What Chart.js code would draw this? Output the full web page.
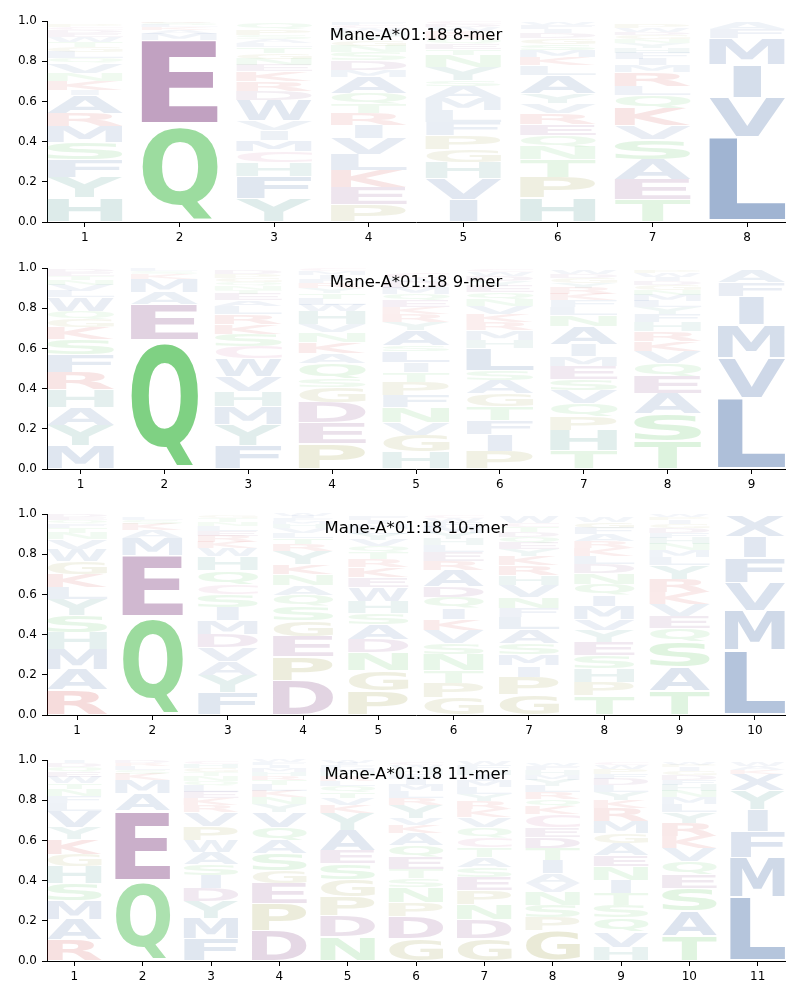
<!DOCTYPE html>
<html>
<head>
<meta charset="utf-8">
<script src="https://cdn.jsdelivr.net/npm/chart.js@4"></script>
<style>
  body { margin: 0; background: #fff; }
  #wrap { position: relative; width: 800px; height: 1000px; }
  #wrap canvas { position: absolute; left: 0; }
</style>
</head>
<body>
<div id="wrap">
  <canvas id="c8" width="800" height="246" style="top:0px"></canvas>
  <canvas id="c9" width="800" height="246" style="top:247px"></canvas>
  <canvas id="c10" width="800" height="246" style="top:493px"></canvas>
  <canvas id="c11" width="800" height="246" style="top:739px"></canvas>
</div>
<script>
// letters of each position, bottom to top, with their heights
const letters8 = ["HYFSMRAIKNVQLGTWEDCP", "QEMAKLSR", "YFHCMIVWDRKENGTLASPQ", "PEKLVIRTQAMDSNGYHWCF",
  "IVHGPFLMASYNTEQRKWDC", "HPTNQERVYALKMSGDIFW", "TEASVKQLRMIFHYNGDWP", "LVIMFA"];
const heights8 = [
  [.12, .10, .09, .085, .08, .065, .09, .025, .045, .04, .05, .025, .03, .025, .025, .025, .02, .015, .015, .015],
  [.485, .42, .03, .02, .015, .012, .01, .006],
  [.115, .11, .07, .055, .055, .05, .05, .10, .045, .05, .05, .03, .03, .03, .03, .02, .02, .02, .03, .03],
  [.085, .085, .085, .08, .08, .065, .06, .045, .055, .08, .035, .05, .04, .03, .03, .02, .02, .02, .015, .015],
  [.11, .105, .08, .065, .07, .065, .06, .06, .06, .03, .065, .06, .03, .025, .025, .02, .02, .02, .015, .015],
  [.12, .10, .09, .065, .055, .055, .055, .05, .05, .09, .05, .04, .035, .03, .03, .025, .02, .02, .015],
  [.11, .10, .10, .10, .07, .085, .065, .045, .07, .035, .03, .03, .025, .025, .02, .02, .015, .02, .02],
  [.425, .195, .165, .13, .045, .035]
];

const letters9 = ["MYAHRFSKGQWLVNTED", "QEAMKSL", "FYMHVWCSKRLAETNQGPD", "PEDGSQAKNVHWLTYRFIMC",
  "HGVNFPTILSAYRKEQMDWC", "PIFTGASLHMRKVNQEYDWC", "THPQVSEMIANLFKRYGDW", "TSAEQVKRHFYLMNGDIWP", "LVMIFA"];
const heights9 = [
  [.115, .10, .09, .09, .085, .09, .075, .06, .04, .04, .07, .03, .03, .025, .02, .02, .015],
  [.64, .18, .06, .065, .025, .015, .01],
  [.115, .105, .09, .075, .075, .09, .06, .06, .05, .05, .04, .03, .03, .02, .02, .02, .02, .02, .02],
  [.125, .105, .10, .075, .045, .075, .05, .055, .05, .04, .065, .03, .03, .03, .025, .025, .02, .02, .02, .01],
  [.085, .085, .06, .075, .06, .065, .05, .05, .055, .03, .075, .04, .04, .035, .035, .03, .03, .03, .02, .025],
  [.09, .08, .07, .07, .065, .065, .05, .11, .04, .05, .04, .04, .04, .035, .035, .03, .025, .025, .02, .015],
  [.09, .10, .07, .065, .065, .055, .065, .05, .06, .09, .055, .04, .035, .03, .03, .025, .025, .02, .02],
  [.14, .135, .10, .085, .065, .06, .05, .05, .045, .04, .035, .03, .03, .025, .025, .02, .02, .02, .015],
  [.355, .20, .165, .14, .07, .06]
];

const letters10 = ["RAMHSYLKGWVNTFQED", "QEMAKSL", "FYAVDMISCQHWKRELNTG", "DPEGSQANKYRTLVHMFIW",
  "PGNDASHWEKRTQVYLMIF", "GPTNSVKIQDARELHYMFWC", "GPIMSALFNVHRKYEQDTCW", "TPHSEYVMIQNDLKRAFGW",
  "TASQEVKRYLMNHFDGIPW", "LMVFIX"];
const heights10 = [
  [.125, .10, .10, .085, .085, .08, .06, .065, .065, .06, .05, .03, .025, .02, .02, .015, .015],
  [.49, .305, .085, .04, .03, .02, .015],
  [.11, .085, .07, .07, .065, .07, .065, .065, .05, .07, .07, .04, .03, .03, .025, .025, .02, .02, .01],
  [.17, .12, .10, .08, .07, .055, .05, .055, .05, .065, .035, .03, .025, .025, .02, .015, .015, .01, .01],
  [.12, .10, .09, .065, .075, .055, .06, .07, .05, .05, .04, .035, .03, .03, .03, .025, .025, .02, .02],
  [.085, .075, .06, .08, .055, .065, .055, .055, .055, .055, .08, .045, .045, .035, .03, .03, .03, .025, .02, .01],
  [.10, .09, .055, .055, .055, .07, .06, .045, .055, .06, .05, .05, .045, .035, .03, .03, .025, .025, .02, .03],
  [.095, .07, .065, .065, .065, .06, .055, .065, .055, .055, .055, .045, .04, .04, .035, .035, .03, .03, .025],
  [.12, .12, .125, .065, .06, .06, .06, .065, .07, .04, .035, .03, .03, .025, .025, .02, .02, .015, .01],
  [.325, .195, .14, .125, .105, .10]
];

const letters11 = ["RAMSHGKYVLFNTWEQDI", "QEAMKSLRD", "FMYDISAWPVRKELQNTGHC", "DPEGSAQVYNKLTRHMIFW",
  "NDPGSEAYKVTQLRHMFIW", "GDPNSTEQAKVYRLMIFHWC", "GDNPESATCQVKRYLMIHFW", "GPSNVAITDECKQRLYMHFW",
  "HVQSTINEAGMRKYLDFPWC", "TASEQVKRYLMNHFDGIPW", "LMFIYXKAW"];
const heights11 = [
  [.105, .10, .095, .085, .085, .06, .075, .06, .08, .04, .035, .035, .03, .03, .025, .025, .02, .015],
  [.40, .35, .085, .065, .03, .02, .02, .015, .01],
  [.11, .10, .085, .065, .065, .055, .06, .06, .07, .07, .035, .035, .03, .03, .025, .025, .02, .02, .02, .015],
  [.15, .135, .10, .065, .085, .065, .065, .075, .04, .035, .03, .03, .025, .02, .02, .02, .015, .015, .01],
  [.12, .105, .095, .085, .08, .065, .10, .085, .04, .035, .03, .03, .025, .025, .02, .02, .015, .01, .01],
  [.11, .11, .07, .075, .045, .045, .06, .06, .06, .04, .035, .065, .035, .035, .03, .03, .025, .025, .02, .015],
  [.11, .095, .075, .07, .065, .05, .05, .05, .05, .05, .05, .04, .04, .035, .035, .03, .03, .025, .025, .02],
  [.15, .065, .06, .065, .045, .05, .065, .06, .055, .05, .065, .04, .035, .035, .03, .03, .025, .025, .02, .015],
  [.07, .075, .07, .06, .06, .065, .07, .055, .06, .05, .06, .065, .04, .04, .035, .03, .025, .025, .02, .015],
  [.125, .125, .11, .07, .065, .065, .06, .065, .055, .04, .035, .03, .03, .025, .025, .02, .02, .01, .01],
  [.32, .195, .13, .11, .095, .08, .02, .02, .02]
];

const titles = ["Mane-A*01:18 8-mer", "Mane-A*01:18 9-mer", "Mane-A*01:18 10-mer", "Mane-A*01:18 11-mer"];
const yTicks = [0, 0.2, 0.4, 0.6, 0.8, 1.0];

// residue colour groups
const groupColor = {
  blue: [43, 88, 155], green: [60, 185, 65], purple: [115, 43, 115],
  red: [200, 40, 40], teal: [40, 130, 120], olive: [140, 140, 40], pink: [190, 80, 140]
};
const residueGroup = {
  A: 'blue', V: 'blue', L: 'blue', I: 'blue', M: 'blue', F: 'blue', W: 'blue', X: 'blue',
  Q: 'green', S: 'green', T: 'green', N: 'green',
  D: 'purple', E: 'purple', K: 'red', R: 'red', H: 'teal', Y: 'teal',
  P: 'olive', G: 'olive', C: 'pink'
};

const FONT = 'bold 100px "DejaVu Sans"';
const glyphCache = {};
function glyphBox(ctx, ch) {
  if (!glyphCache[ch]) {
    ctx.save();
    ctx.font = FONT;
    const m = ctx.measureText(ch);
    glyphCache[ch] = {
      left: m.actualBoundingBoxLeft, w: m.actualBoundingBoxLeft + m.actualBoundingBoxRight,
      asc: m.actualBoundingBoxAscent, h: m.actualBoundingBoxAscent + m.actualBoundingBoxDescent
    };
    ctx.restore();
  }
  return glyphCache[ch];
}

function drawGlyph(ctx, ch, x, y, w, h, fill) {
  if (h <= 0.3) return;
  const g = glyphBox(ctx, ch);
  const e = glyphBox(ctx, 'E');
  // don't stretch narrow letters (like I) wider than an E would be
  const sx = w / Math.max(g.w, e.w);
  const sy = h / g.h;
  const x0 = x + (w - g.w * sx) / 2;
  ctx.save();
  ctx.translate(x0, y);
  ctx.scale(sx, sy);
  ctx.font = FONT;
  ctx.textBaseline = 'alphabetic';
  ctx.textAlign = 'left';
  ctx.fillStyle = fill;
  ctx.fillText(ch, g.left, g.asc);
  ctx.restore();
}

function makePanel(id, title, letters, heights) {
  const n = letters.length;
  const positions = letters.map((s, i) => i + 1);
  const levels = Math.max(...letters.map(s => s.length));
  const datasets = [];
  for (let k = 0; k < levels; k++) {
    datasets.push({
      data: positions.map((p, i) => ({ x: p, y: heights[i][k] || 0 })),
      backgroundColor: 'rgba(0,0,0,0)',
      borderWidth: 0,
      barPercentage: 0.8,
      categoryPercentage: 1
    });
  }

  const logoPlugin = {
    id: 'logo' + id,
    afterDatasetsDraw(chart) {
      const ctx = chart.ctx;
      const xs = chart.scales.x;
      chart.data.datasets.forEach((ds, k) => {
        const meta = chart.getDatasetMeta(k);
        meta.data.forEach((bar, i) => {
          const ch = letters[i][k];
          if (!ch) return;
          const p = heights[i][k];
          const top = Math.min(bar.y, bar.base), bottom = Math.max(bar.y, bar.base);
          const pad = (bottom - top) * 0.025;
          const left = xs.getPixelForValue(positions[i] - 0.4);
          const right = xs.getPixelForValue(positions[i] + 0.4);
          const c = groupColor[residueGroup[ch]];
          const a = Math.min(1, 0.04 + 0.96 * p);
          drawGlyph(ctx, ch, left, top + pad, right - left, bottom - top - 2 * pad,
            'rgba(' + c[0] + ',' + c[1] + ',' + c[2] + ',' + a + ')');
        });
      });
      const ca = chart.chartArea;
      ctx.save();
      ctx.font = '16.5px "DejaVu Sans"';
      ctx.fillStyle = '#000';
      ctx.textAlign = 'center';
      ctx.textBaseline = 'middle';
      ctx.fillText(title, (ca.left + ca.right) / 2, ca.top + 15);
      ctx.restore();
    }
  };

  const tickFont = { family: 'DejaVu Sans', size: 12 };
  new Chart(document.getElementById(id), {
    type: 'bar',
    data: { datasets: datasets },
    options: {
      responsive: false,
      animation: false,
      layout: { padding: { top: 21, right: 15, left: 0, bottom: 0 } },
      plugins: { legend: { display: false }, tooltip: { enabled: false }, title: { display: false } },
      scales: {
        x: {
          type: 'linear', stacked: true, offset: false,
          min: 0.6, max: n + 0.4,
          afterBuildTicks: axis => { axis.ticks = positions.map(v => ({ value: v })); },
          afterFit: axis => { axis.height = 24; },
          ticks: { font: tickFont, color: '#000', padding: 4, maxRotation: 0, autoSkip: false },
          grid: { offset: false, drawOnChartArea: false, drawTicks: true, tickLength: 5, color: '#000' },
          border: { display: true, color: '#000', width: 1 }
        },
        y: {
          stacked: true, min: 0, max: 1,
          afterBuildTicks: axis => { axis.ticks = yTicks.map(v => ({ value: v })); },
          afterFit: axis => { axis.width = 47; },
          ticks: { font: tickFont, color: '#000', padding: 5, callback: v => v.toFixed(1) },
          grid: { drawOnChartArea: false, drawTicks: true, tickLength: 5, color: '#000' },
          border: { display: true, color: '#000', width: 1 }
        }
      }
    },
    plugins: [logoPlugin]
  });
}

makePanel('c8', titles[0], letters8, heights8);
makePanel('c9', titles[1], letters9, heights9);
makePanel('c10', titles[2], letters10, heights10);
makePanel('c11', titles[3], letters11, heights11);
</script>
</body>
</html>
